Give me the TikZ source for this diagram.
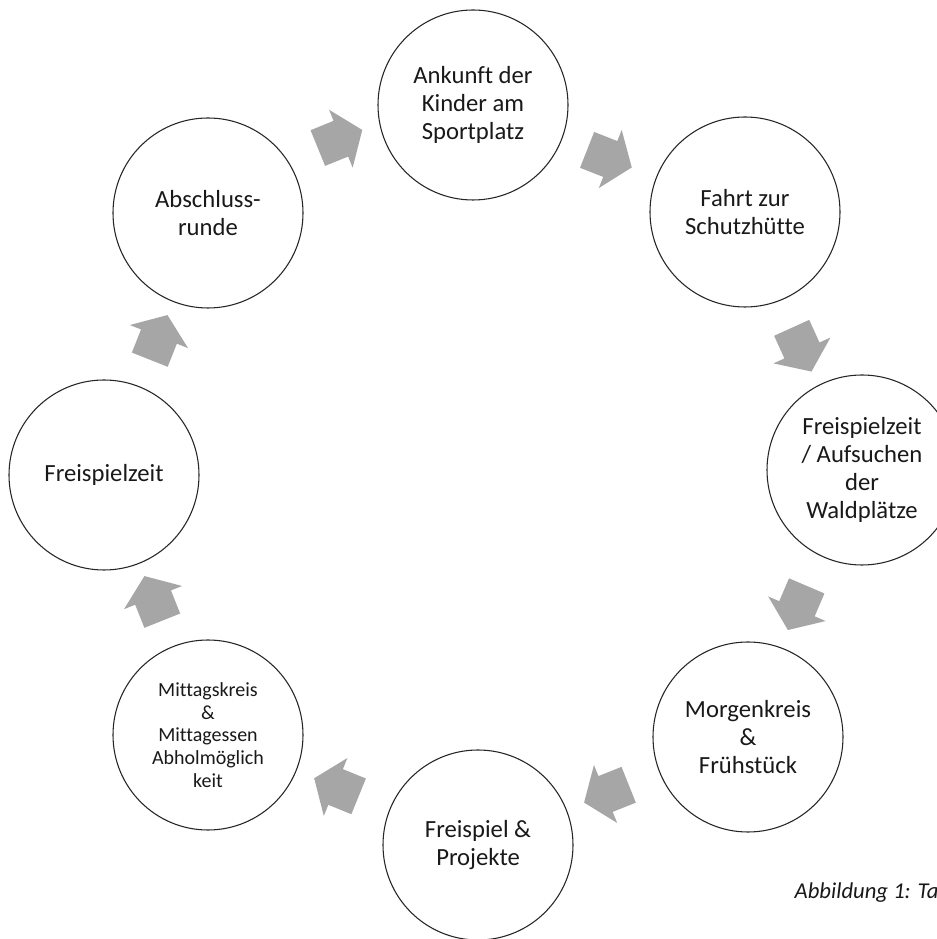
\documentclass[tikz,border=0pt]{standalone}
\usepackage{fontspec}
\setmainfont{Carlito}[Ligatures=NoCommon]
\usepackage{tikz}
\usetikzlibrary{shapes.arrows}
\definecolor{arrowgray}{HTML}{A6A6A6}
\tikzset{stage/.style={circle,draw=black!85,line width=0.8pt,minimum size=142.5pt,
  inner sep=0pt,align=center,text=black!90,font=\fontsize{18.5}{21}\selectfont},
 smalltext/.style={font=\fontsize{15}{17}\selectfont},
 flow/.style={single arrow,fill=arrowgray,draw=none,inner xsep=0pt,inner ysep=14.25pt,
  minimum height=36pt,single arrow head extend=9pt,
  single arrow tip angle=107,sloped,allow upside down},
 x=0.75pt,y=0.75pt,
 }

\begin{document}
\begin{tikzpicture}
        \useasboundingbox (0,0) rectangle (937,939);
        \fill[white] (0,0) rectangle (937,939);
        \clip (0,0) rectangle (937,939);

        \node[stage] (ankunft) at (473,834) {Ankunft der\\Kinder am\\Sportplatz};
        \node[stage] (fahrt) at (745,727) {Fahrt zur\\Schutzhütte};
        \node[stage] (wald) at (862,469) {Freispielzeit\\/ Aufsuchen\\der\\Waldplätze};
        \node[stage] (morgen) at (748,202) {Morgenkreis\\\&\\Frühstück};
        \node[stage] (projekte) at (478,94) {Freispiel \&\\Projekte};
        \node[stage,smalltext] (mittag) at (208,204) {Mittagskreis\\\&\\Mittagessen\\Abholmöglich\\keit};
        \node[stage] (freispiel) at (104,464) {Freispielzeit};
        \node[stage] (abschluss) at (208,726) {Abschluss-\\runde};

        \path (abschluss) -- node[flow,yshift=14pt] (p1) {} (ankunft);
        \path (ankunft) -- node[flow,xshift=-5pt] (p2) {} (fahrt);
        \path (fahrt) -- node[flow,yshift=-4pt] (p3) {} (wald);
        \path (wald) -- node[flow,yshift=-4pt] (p4) {} (morgen);
        \path (morgen) -- node[flow] (p5) {} (projekte);
        \path (projekte) -- node[flow] (p6) {} (mittag);
        \path (mittag) -- node[flow] (p7) {} (freispiel);
        \path (freispiel) -- node[flow] (p8) {} (abschluss);

        \node[anchor=base west,font=\itshape\fontsize{17}{20}\selectfont,text=black!90] (caption) at (790,40) {Abbildung 1: Ta};
    \end{tikzpicture}
\end{document}
